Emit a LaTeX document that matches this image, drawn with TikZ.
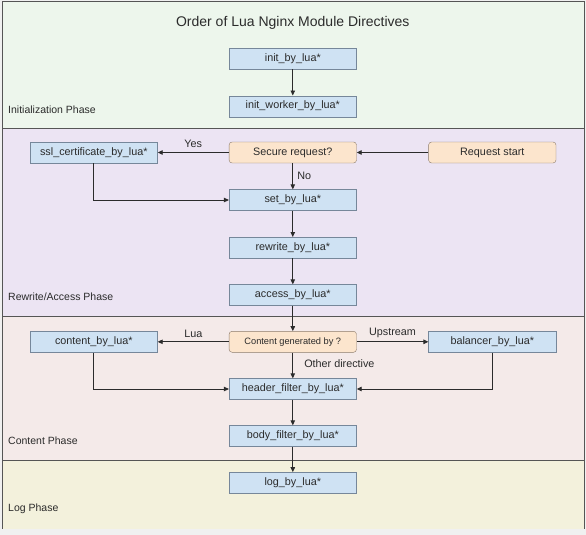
\documentclass[tikz,border=0pt]{standalone}
\usepackage{fontspec}
\setmainfont{Liberation Sans}
\usetikzlibrary{arrows.meta}
\definecolor{initband}{HTML}{EDF6EC}
\definecolor{rewriteband}{HTML}{ECE4F3}
\definecolor{contentband}{HTML}{F4EAE9}
\definecolor{logband}{HTML}{F3F1DC}
\definecolor{dirfill}{HTML}{CFE2F3}
\definecolor{dirline}{HTML}{76879A}
\definecolor{askfill}{HTML}{FCE5CD}
\definecolor{askline}{HTML}{8C7B6B}
\definecolor{rule}{HTML}{555555}
\definecolor{ink}{HTML}{2B2B2B}

\begin{document}
\begin{tikzpicture}[x=1pt,y=-1pt,
    dirbox/.style={draw=dirline,fill=dirfill,minimum width=127.4pt,minimum height=21pt,
      inner sep=0pt,font=\fontsize{10.8}{12}\selectfont,text=ink},
    askbox/.style={dirbox,draw=askline,fill=askfill,rounded corners=3pt},
    phaselabel/.style={anchor=west,inner sep=0pt,font=\fontsize{10.5}{12}\selectfont,text=ink},
    flow/.style={draw=ink,line width=0.9pt,-{Triangle[length=5pt,width=4.5pt]}},
    edgetext/.style={inner sep=0pt,font=\fontsize{10.8}{12}\selectfont,text=ink}]
  \useasboundingbox (0,0) rectangle (586,535);
  \fill[black!6] (0,0) rectangle (586,535);
  % phase bands
  \fill[initband] (2.5,1.5) rectangle (584,128);
  \fill[rewriteband] (2.5,128) rectangle (584,316);
  \fill[contentband] (2.5,316) rectangle (584,460);
  \fill[logband] (2.5,460) rectangle (584,528.5);
  \draw[rule,line width=0.8pt] (2.5,528.5) -- (2.5,1.5) -- (584,1.5) -- (584,528.5);
  \draw[rule,line width=0.8pt] (2.5,128) -- (584,128);
  \draw[rule,line width=0.8pt] (2.5,316) -- (584,316);
  \draw[rule,line width=0.8pt] (2.5,460) -- (584,460);

  \node (title) at (292.8,23)[font=\fontsize{14}{16}\selectfont,text=ink]{Order of Lua Nginx Module Directives};
  \node (initlabel) at (8,110)[phaselabel]{Initialization Phase};
  \node (rewritelabel) at (8,297)[phaselabel]{Rewrite/Access Phase};
  \node (contentlabel) at (8,441)[phaselabel]{Content Phase};
  \node (loglabel) at (8,509)[phaselabel]{Log Phase};

  % directives
  \node (init) at (292.8,58.8)[dirbox]{init\_by\_lua*};
  \node (initworker) at (292.8,106.2)[dirbox]{init\_worker\_by\_lua*};
  \node (ssl) at (93.8,152.5)[dirbox]{ssl\_certificate\_by\_lua*};
  \node (secure) at (292.8,152.5)[askbox]{Secure request?};
  \node (start) at (492.3,152.5)[askbox]{Request start};
  \node (set) at (292.8,200)[dirbox]{set\_by\_lua*};
  \node (rewrite) at (292.8,247.7)[dirbox]{rewrite\_by\_lua*};
  \node (access) at (292.8,295)[dirbox]{access\_by\_lua*};
  \node (generated) at (292.8,341.8)[askbox,font=\fontsize{9.25}{11}\selectfont]{Content generated by ?};
  \node (content) at (93.8,341.8)[dirbox]{content\_by\_lua*};
  \node (balancer) at (492.3,341.8)[dirbox]{balancer\_by\_lua*};
  \node (header) at (292.8,389)[dirbox]{header\_filter\_by\_lua*};
  \node (body) at (292.8,436)[dirbox]{body\_filter\_by\_lua*};
  \node (log) at (292.8,482.8)[dirbox]{log\_by\_lua*};

  % connectors
  \draw[flow] (init) -- (initworker);
  \draw[flow] (start) -- (secure);
  \draw[flow] (secure) -- node[edgetext,above=4pt]{Yes} (ssl);
  \draw[flow] (secure) -- node[edgetext,right=4pt]{No} (set);
  \draw[flow] (ssl) |- (set);
  \draw[flow] (set) -- (rewrite);
  \draw[flow] (rewrite) -- (access);
  \draw[flow] (access) -- (generated);
  \draw[flow] (generated) -- node[edgetext,above=3.5pt]{Lua} (content);
  \draw[flow] (generated) -- node[edgetext,above=3.5pt]{Upstream} (balancer);
  \draw[flow] (generated) -- node[edgetext,right=11pt,pos=0.45]{Other directive} (header);
  \draw[flow] (content) |- (header);
  \draw[flow] (balancer) |- (header);
  \draw[flow] (header) -- (body);
  \draw[flow] (body) -- (log);
\end{tikzpicture}
\end{document}
